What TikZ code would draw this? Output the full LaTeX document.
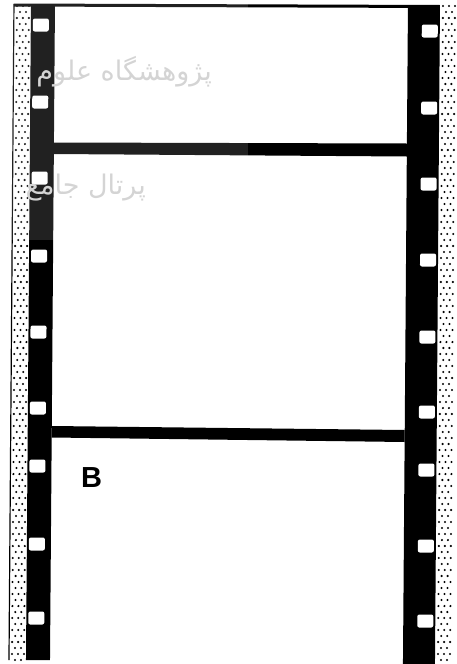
\documentclass[tikz,border=0pt]{standalone}
\usepackage{fontspec}
\setmainfont{Liberation Sans}
\newfontfamily\arabicfont[Script=Arabic]{DejaVu Sans}
\TeXXeTstate=1
\tikzset{
  band/.style={fill=black},
  hole/.style={fill=white, rounded corners=2pt},
  dot/.style={fill=black},
  wmtext/.style={text=black!17, inner sep=0pt, font=\arabicfont\fontsize{27}{27}\selectfont}
}
\begin{document}
\begin{tikzpicture}[x=1pt,y=-1pt]
\useasboundingbox (0,0) rectangle (456,664);
\clip (0,0) rectangle (456,664);
\begin{scope}[xslant=0.0076]
  % dotted margins
  \foreach \r in {0,...,110}{
    \pgfmathsetmacro{\yy}{6+\r*6}
    \ifodd\r
      \foreach \c in {20,26,446,452}{\fill[dot] (\c,\yy) circle[radius=1.15pt];}
    \else
      \foreach \c in {17,23,29,443,449,455}{\fill[dot] (\c,\yy) circle[radius=1.15pt];}
    \fi
  }
  \draw[line width=1.2pt] (14,4) -- (14,660);
  % black bands
  \fill[band] (31,4) rectangle (55,660);
  \fill[band] (408,5) rectangle (440,670);
  % top edge and frame bars
  \fill[band] (14,3.5) -- (440,5) -- (440,8) -- (14,6.5) -- cycle;
  \fill[band] (55,142.5) -- (408,143.5) -- (408,156.5) -- (55,154) -- cycle;
  \fill[band] (55,426) -- (408,430) -- (408,442) -- (55,437.5) -- cycle;
  % sprocket holes
  \foreach \h in {25,102,178,256,332,408,466,544,618}{
    \fill[hole] (33,\h-6.5) rectangle (49,\h+6.5);
  }
  \foreach \h in {31,108,184,260,337,412,470,546,621}{
    \fill[hole] (422,\h-6.5) rectangle (438,\h+6.5);
  }
\end{scope}
% frame label
\node[font=\bfseries\fontsize{29}{29}\selectfont, anchor=base west, inner sep=0pt] (B) at (81,487) {B};
% faint watermark
\fill[white, opacity=0.13] (0,0) rectangle (248,240);
\node[wmtext, anchor=east] (wm1) at (212,72) {\beginR پژوهشگاه علوم\endR};
\node[wmtext, anchor=east] (wm2) at (146,188) {\beginR پرتال جامع\endR};
\end{tikzpicture}
\end{document}
